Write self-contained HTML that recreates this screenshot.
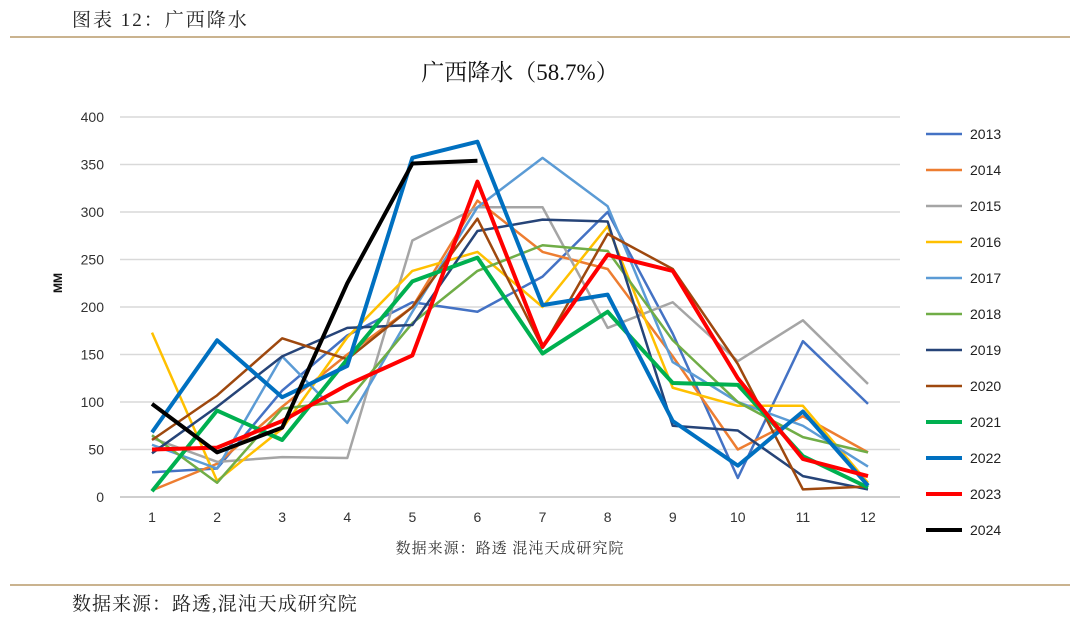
<!DOCTYPE html>
<html><head><meta charset="utf-8"><style>
body{margin:0;background:#fff;font-family:"Liberation Sans","Noto Sans CJK SC",sans-serif}
svg text{font-family:"Liberation Sans","Noto Sans CJK SC",sans-serif}
svg text.serif{font-family:"Liberation Serif","Noto Serif CJK SC",serif}
</style></head><body>
<svg id="c" width="1080" height="620" xmlns="http://www.w3.org/2000/svg">
<text class="serif" x="72" y="26" font-size="19" fill="#222" letter-spacing="2">图表 12：广西降水</text>
<line x1="10" y1="37" x2="1070" y2="37" stroke="#b89a6a" stroke-width="1.5"/>
<text class="serif" x="520" y="80" font-size="23" text-anchor="middle" fill="#111">广西降水（58.7%）</text>
<text transform="translate(62,283) rotate(-90)" font-size="12" font-weight="bold" text-anchor="middle" fill="#111">MM</text>
<text class="serif" x="510" y="553" font-size="15" text-anchor="middle" fill="#333" letter-spacing="1">数据来源：路透 混沌天成研究院</text>
<line x1="10" y1="585" x2="1070" y2="585" stroke="#b89a6a" stroke-width="1.5"/>
<text class="serif" x="72" y="610" font-size="19" fill="#222" letter-spacing="1">数据来源：路透,混沌天成研究院</text>
<g id="grid"></g><g id="ax"></g><g id="lines"></g><g id="leg"></g>
</svg>
<script>
const months=[1,2,3,4,5,6,7,8,9,10,11,12];
const yTicks=[0,50,100,150,200,250,300,350,400];
const years=["2013","2014","2015","2016","2017","2018","2019","2020","2021","2022","2023","2024"];
const colors=["#4472c4","#ed7d31","#a5a5a5","#ffc000","#5b9bd5","#70ad47","#264478","#9e480e","#00b050","#0070c0","#ff0000","#000000"];
const widths=[2.5,2.5,2.5,2.5,2.5,2.5,2.5,2.5,4,4,4,4];
const s2013=[26,30,112,170,205,195,232,300,172,20,164,98];
const s2014=[7,35,95,150,200,312,258,240,148,50,85,47];
const s2015=[62,37,42,41,270,305,305,178,205,143,186,119];
const s2016=[173,17,72,168,238,258,200,285,115,96,96,15];
const s2017=[55,30,148,78,195,305,357,306,142,100,75,32];
const s2018=[65,15,93,101,183,238,265,259,165,100,63,47];
const s2019=[46,95,148,178,181,280,292,290,75,70,22,8];
const s2020=[60,107,167,145,200,293,157,277,240,140,8,11];
const s2021=[6,91,60,145,227,252,151,195,120,118,43,10];
const s2022=[68,165,105,138,357,374,202,213,80,33,90,12];
const s2023=[50,52,80,118,149,332,158,255,238,125,40,22];
const s2024=[98,47,73,225,351,354];
const series=[s2013,s2014,s2015,s2016,s2017,s2018,s2019,s2020,s2021,s2022,s2023,s2024];
const NS="http://www.w3.org/2000/svg";
const x=m=>152+(m-1)*(868-152)/11;
const y=v=>497-v*(497-117)/400;
function mk(t,a,p){const e=document.createElementNS(NS,t);for(const k in a)e.setAttribute(k,a[k]);p.appendChild(e);return e;}
const grid=document.getElementById('grid'),ax=document.getElementById('ax'),ln=document.getElementById('lines'),lg=document.getElementById('leg');
yTicks.forEach(v=>{
 const l=mk('line',{x1:120,x2:900,y1:y(v),y2:y(v),stroke:v?'#d9d9d9':'#bfbfbf','stroke-width':1.5},grid);
 
 
 const t=mk('text',{x:104,y:y(v)+5,'font-size':14,'text-anchor':'end',fill:'#333'},ax);t.textContent=v;
 
 
});
months.forEach(m=>{
 const t=mk('text',{x:x(m),y:522,'font-size':14,'text-anchor':'middle',fill:'#333'},ax);t.textContent=m;
 
 
});
series.forEach((s,i)=>{
 const p=mk('polyline',{points:s.map((v,j)=>x(months[j])+','+y(v)).join(' '),fill:'none',stroke:colors[i],'stroke-width':widths[i],'stroke-linejoin':'round'},ln);
 
 
 const ly=134+i*36;
 const g=mk('g',{},lg);
 
 
 mk('line',{x1:926,x2:962,y1:ly,y2:ly,stroke:colors[i],'stroke-width':widths[i]},g);
 const t=mk('text',{x:970,y:ly+5,'font-size':14,fill:'#222'},g);t.textContent=years[i];
});
</script>
</body></html>
